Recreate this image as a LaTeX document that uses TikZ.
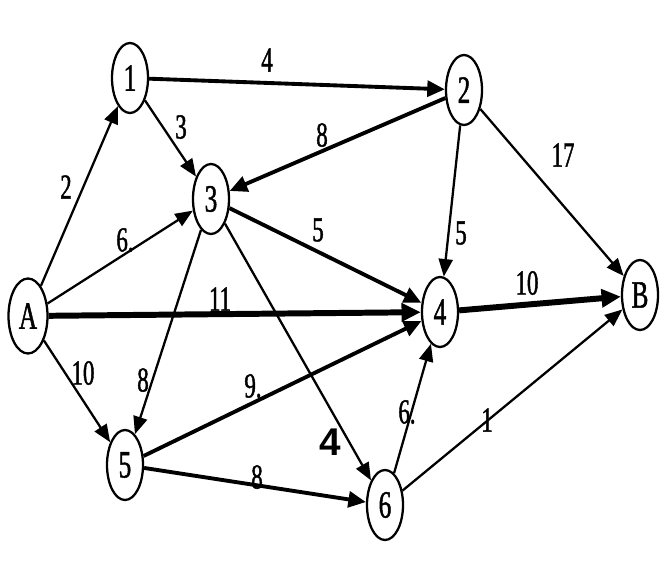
\documentclass[tikz,border=0pt]{standalone}
\usepackage{fontspec}
\setmainfont{Liberation Serif}
\newfontfamily\narrowfont[FakeStretch=0.65,FakeBold=1.2]{Liberation Serif}
\newfontfamily\boldsans{Liberation Sans}
\usetikzlibrary{shapes.geometric, arrows.meta}

\begin{document}
\begin{tikzpicture}[
    x=0.02cm, y=-0.02cm,
    vertex/.style={
        ellipse,
        draw,
        line width=1.3pt,
        inner sep=0pt,
        minimum width=0.72cm,
        minimum height=1.4cm,
        font=\narrowfont\fontsize{22}{22}\selectfont
    },
    weight/.style={
        inner sep=1pt,
        font=\narrowfont\fontsize{20}{20}\selectfont
    },
    thinarc/.style={
        -{Triangle[length=10pt,width=8pt]},
        line width=1.3pt
    },
    thickarc/.style={
        -{Triangle[length=10pt,width=9pt]},
        line width=2.2pt
    },
    heavyarc/.style={
        -{Triangle[length=11pt,width=10pt]},
        line width=3.4pt
    }
]
\useasboundingbox (0,0) rectangle (666,582);

% Vertices
\node[vertex, minimum width=0.78cm, minimum height=1.5cm] (A) at (28,316) {A};
\node[vertex] (v1) at (130,78) {1};
\node[vertex] (v2) at (464,90) {2};
\node[vertex] (v3) at (211,199) {3};
\node[vertex] (v4) at (440,312) {4};
\node[vertex] (B) at (640,295) {B};
\node[vertex] (v5) at (125,465) {5};
\node[vertex] (v6) at (385,505) {6};

% Arcs
\draw[thinarc] (A) -- (v1);
\draw[thinarc] (A) -- (v3);
\draw[heavyarc] (A) -- (v4);
\draw[thinarc] (A) -- (v5);
\draw[thickarc] (v1) -- (v2);
\draw[thinarc] (v1) -- (v3);
\draw[thickarc] (v2) -- (v3);
\draw[thinarc] (v2) -- (v4);
\draw[thinarc] (v2) -- (B);
\draw[thickarc] (v3) -- (v4);
\draw[thinarc] (v3) -- (v5);
\draw[thinarc] (v3) -- (v6);
\draw[heavyarc] (v4) -- (B);
\draw[thickarc] (v5) -- (v4);
\draw[thickarc] (v5) -- (v6);
\draw[thinarc] (v6) -- (v4);
\draw[thinarc] (v6) -- (B);

% Weights
\node[weight] (wA1) at (66,187) {2};
\node[weight] (wA3) at (125,240) {6.};
\node[weight] (wA4) at (220,299) {11};
\node[weight] (wA5) at (83,373) {10};
\node[weight] (w12) at (267,60) {4};
\node[weight] (w13) at (181,127) {3};
\node[weight] (w23) at (322,135) {8};
\node[weight] (w24) at (461,233) {5};
\node[weight] (w2B) at (563,155) {17};
\node[weight] (w34) at (318,230) {5};
\node[weight] (w35) at (143,380) {8};
\node[weight, font=\boldsans\bfseries\fontsize{22}{22}\selectfont] (w36) at (330,442) {4};
\node[weight] (w4B) at (527,283) {10};
\node[weight] (w54) at (253,386) {9.};
\node[weight] (w56) at (257,477) {8};
\node[weight] (w64) at (407,412) {6.};
\node[weight] (w6B) at (487,420) {1};

\end{tikzpicture}
\end{document}
